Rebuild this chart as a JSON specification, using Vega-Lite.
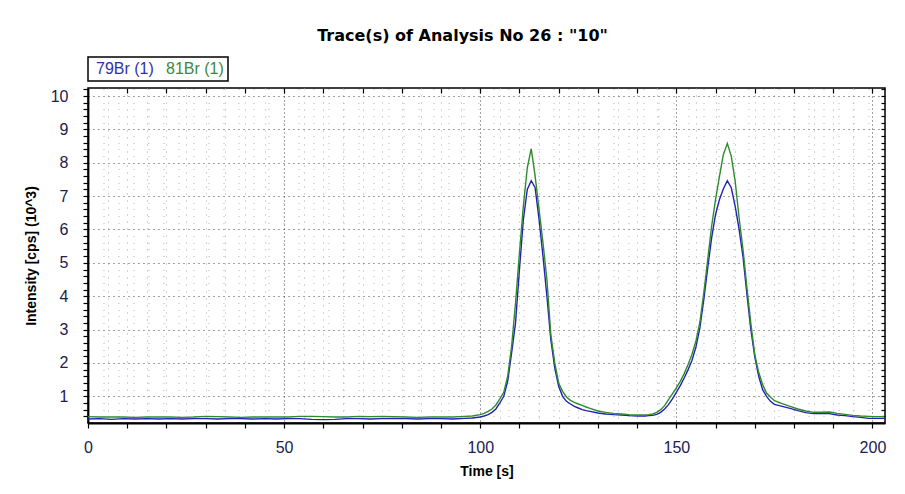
{
  "$schema": "https://vega.github.io/schema/vega-lite/v6.json",
  "width": 797,
  "height": 335,
  "autosize": {"type": "none"},
  "padding": {"left": 88, "top": 88, "right": 20, "bottom": 71},
  "background": "white",
  "title": {"text": "Trace(s) of Analysis No 26 : \"10\"", "font": "DejaVu Sans", "fontSize": 16, "fontWeight": "bold", "color": "#000000", "anchor": "middle", "offset": 12, "dx": -24},
  "config": {"view": {"stroke": "#000000", "strokeWidth": 1.5}, "font": "Liberation Sans"},
  "datasets": {
    "traces": [
      {"t":0,"s":"79Br (1)","v":0.32},{"t":0,"s":"81Br (1)","v":0.39},
      {"t":3,"s":"79Br (1)","v":0.33},{"t":3,"s":"81Br (1)","v":0.38},
      {"t":6,"s":"79Br (1)","v":0.31},{"t":6,"s":"81Br (1)","v":0.38},
      {"t":9,"s":"79Br (1)","v":0.33},{"t":9,"s":"81Br (1)","v":0.38},
      {"t":12,"s":"79Br (1)","v":0.32},{"t":12,"s":"81Br (1)","v":0.37},
      {"t":15,"s":"79Br (1)","v":0.33},{"t":15,"s":"81Br (1)","v":0.38},
      {"t":18,"s":"79Br (1)","v":0.32},{"t":18,"s":"81Br (1)","v":0.38},
      {"t":21,"s":"79Br (1)","v":0.33},{"t":21,"s":"81Br (1)","v":0.38},
      {"t":24,"s":"79Br (1)","v":0.32},{"t":24,"s":"81Br (1)","v":0.37},
      {"t":27,"s":"79Br (1)","v":0.33},{"t":27,"s":"81Br (1)","v":0.38},
      {"t":30,"s":"79Br (1)","v":0.33},{"t":30,"s":"81Br (1)","v":0.40},
      {"t":33,"s":"79Br (1)","v":0.32},{"t":33,"s":"81Br (1)","v":0.39},
      {"t":36,"s":"79Br (1)","v":0.33},{"t":36,"s":"81Br (1)","v":0.38},
      {"t":39,"s":"79Br (1)","v":0.33},{"t":39,"s":"81Br (1)","v":0.37},
      {"t":42,"s":"79Br (1)","v":0.32},{"t":42,"s":"81Br (1)","v":0.38},
      {"t":45,"s":"79Br (1)","v":0.33},{"t":45,"s":"81Br (1)","v":0.38},
      {"t":48,"s":"79Br (1)","v":0.32},{"t":48,"s":"81Br (1)","v":0.38},
      {"t":51,"s":"79Br (1)","v":0.33},{"t":51,"s":"81Br (1)","v":0.38},
      {"t":54,"s":"79Br (1)","v":0.33},{"t":54,"s":"81Br (1)","v":0.40},
      {"t":57,"s":"79Br (1)","v":0.31},{"t":57,"s":"81Br (1)","v":0.40},
      {"t":60,"s":"79Br (1)","v":0.30},{"t":60,"s":"81Br (1)","v":0.39},
      {"t":63,"s":"79Br (1)","v":0.31},{"t":63,"s":"81Br (1)","v":0.38},
      {"t":66,"s":"79Br (1)","v":0.33},{"t":66,"s":"81Br (1)","v":0.38},
      {"t":69,"s":"79Br (1)","v":0.33},{"t":69,"s":"81Br (1)","v":0.40},
      {"t":72,"s":"79Br (1)","v":0.32},{"t":72,"s":"81Br (1)","v":0.39},
      {"t":75,"s":"79Br (1)","v":0.33},{"t":75,"s":"81Br (1)","v":0.40},
      {"t":78,"s":"79Br (1)","v":0.34},{"t":78,"s":"81Br (1)","v":0.39},
      {"t":81,"s":"79Br (1)","v":0.33},{"t":81,"s":"81Br (1)","v":0.38},
      {"t":84,"s":"79Br (1)","v":0.32},{"t":84,"s":"81Br (1)","v":0.37},
      {"t":87,"s":"79Br (1)","v":0.33},{"t":87,"s":"81Br (1)","v":0.38},
      {"t":90,"s":"79Br (1)","v":0.33},{"t":90,"s":"81Br (1)","v":0.38},
      {"t":93,"s":"79Br (1)","v":0.32},{"t":93,"s":"81Br (1)","v":0.38},
      {"t":96,"s":"79Br (1)","v":0.34},{"t":96,"s":"81Br (1)","v":0.40},
      {"t":98,"s":"79Br (1)","v":0.35},{"t":98,"s":"81Br (1)","v":0.41},
      {"t":100,"s":"79Br (1)","v":0.38},{"t":100,"s":"81Br (1)","v":0.45},
      {"t":101,"s":"79Br (1)","v":0.41},{"t":101,"s":"81Br (1)","v":0.49},
      {"t":102,"s":"79Br (1)","v":0.45},{"t":102,"s":"81Br (1)","v":0.55},
      {"t":103,"s":"79Br (1)","v":0.52},{"t":103,"s":"81Br (1)","v":0.62},
      {"t":104,"s":"79Br (1)","v":0.62},{"t":104,"s":"81Br (1)","v":0.74},
      {"t":105,"s":"79Br (1)","v":0.80},{"t":105,"s":"81Br (1)","v":0.92},
      {"t":106,"s":"79Br (1)","v":1.00},{"t":106,"s":"81Br (1)","v":1.12},
      {"t":107,"s":"79Br (1)","v":1.45},{"t":107,"s":"81Br (1)","v":1.60},
      {"t":108,"s":"79Br (1)","v":2.30},{"t":108,"s":"81Br (1)","v":2.50},
      {"t":109,"s":"79Br (1)","v":3.20},{"t":109,"s":"81Br (1)","v":3.80},
      {"t":110,"s":"79Br (1)","v":4.80},{"t":110,"s":"81Br (1)","v":5.30},
      {"t":111,"s":"79Br (1)","v":6.30},{"t":111,"s":"81Br (1)","v":6.70},
      {"t":112,"s":"79Br (1)","v":7.20},{"t":112,"s":"81Br (1)","v":7.85},
      {"t":113,"s":"79Br (1)","v":7.46},{"t":113,"s":"81Br (1)","v":8.42},
      {"t":114,"s":"79Br (1)","v":7.25},{"t":114,"s":"81Br (1)","v":7.60},
      {"t":115,"s":"79Br (1)","v":6.30},{"t":115,"s":"81Br (1)","v":6.60},
      {"t":116,"s":"79Br (1)","v":5.20},{"t":116,"s":"81Br (1)","v":5.60},
      {"t":117,"s":"79Br (1)","v":4.00},{"t":117,"s":"81Br (1)","v":4.50},
      {"t":118,"s":"79Br (1)","v":2.70},{"t":118,"s":"81Br (1)","v":2.85},
      {"t":119,"s":"79Br (1)","v":1.85},{"t":119,"s":"81Br (1)","v":2.00},
      {"t":120,"s":"79Br (1)","v":1.30},{"t":120,"s":"81Br (1)","v":1.40},
      {"t":121,"s":"79Br (1)","v":1.00},{"t":121,"s":"81Br (1)","v":1.15},
      {"t":122,"s":"79Br (1)","v":0.85},{"t":122,"s":"81Br (1)","v":0.98},
      {"t":123,"s":"79Br (1)","v":0.77},{"t":123,"s":"81Br (1)","v":0.88},
      {"t":124,"s":"79Br (1)","v":0.70},{"t":124,"s":"81Br (1)","v":0.82},
      {"t":125,"s":"79Br (1)","v":0.65},{"t":125,"s":"81Br (1)","v":0.77},
      {"t":126,"s":"79Br (1)","v":0.60},{"t":126,"s":"81Br (1)","v":0.73},
      {"t":127,"s":"79Br (1)","v":0.57},{"t":127,"s":"81Br (1)","v":0.68},
      {"t":128,"s":"79Br (1)","v":0.55},{"t":128,"s":"81Br (1)","v":0.64},
      {"t":130,"s":"79Br (1)","v":0.50},{"t":130,"s":"81Br (1)","v":0.56},
      {"t":132,"s":"79Br (1)","v":0.47},{"t":132,"s":"81Br (1)","v":0.52},
      {"t":134,"s":"79Br (1)","v":0.45},{"t":134,"s":"81Br (1)","v":0.49},
      {"t":136,"s":"79Br (1)","v":0.44},{"t":136,"s":"81Br (1)","v":0.47},
      {"t":138,"s":"79Br (1)","v":0.42},{"t":138,"s":"81Br (1)","v":0.45},
      {"t":140,"s":"79Br (1)","v":0.41},{"t":140,"s":"81Br (1)","v":0.44},
      {"t":142,"s":"79Br (1)","v":0.41},{"t":142,"s":"81Br (1)","v":0.44},
      {"t":143,"s":"79Br (1)","v":0.42},{"t":143,"s":"81Br (1)","v":0.45},
      {"t":144,"s":"79Br (1)","v":0.43},{"t":144,"s":"81Br (1)","v":0.47},
      {"t":145,"s":"79Br (1)","v":0.46},{"t":145,"s":"81Br (1)","v":0.52},
      {"t":146,"s":"79Br (1)","v":0.52},{"t":146,"s":"81Br (1)","v":0.60},
      {"t":147,"s":"79Br (1)","v":0.62},{"t":147,"s":"81Br (1)","v":0.72},
      {"t":148,"s":"79Br (1)","v":0.75},{"t":148,"s":"81Br (1)","v":0.90},
      {"t":149,"s":"79Br (1)","v":0.92},{"t":149,"s":"81Br (1)","v":1.07},
      {"t":150,"s":"79Br (1)","v":1.12},{"t":150,"s":"81Br (1)","v":1.25},
      {"t":151,"s":"79Br (1)","v":1.32},{"t":151,"s":"81Br (1)","v":1.45},
      {"t":152,"s":"79Br (1)","v":1.55},{"t":152,"s":"81Br (1)","v":1.68},
      {"t":153,"s":"79Br (1)","v":1.80},{"t":153,"s":"81Br (1)","v":1.95},
      {"t":154,"s":"79Br (1)","v":2.08},{"t":154,"s":"81Br (1)","v":2.26},
      {"t":155,"s":"79Br (1)","v":2.48},{"t":155,"s":"81Br (1)","v":2.66},
      {"t":156,"s":"79Br (1)","v":3.05},{"t":156,"s":"81Br (1)","v":3.22},
      {"t":157,"s":"79Br (1)","v":3.90},{"t":157,"s":"81Br (1)","v":4.10},
      {"t":158,"s":"79Br (1)","v":4.85},{"t":158,"s":"81Br (1)","v":5.10},
      {"t":159,"s":"79Br (1)","v":5.75},{"t":159,"s":"81Br (1)","v":6.10},
      {"t":160,"s":"79Br (1)","v":6.45},{"t":160,"s":"81Br (1)","v":6.90},
      {"t":161,"s":"79Br (1)","v":6.90},{"t":161,"s":"81Br (1)","v":7.60},
      {"t":162,"s":"79Br (1)","v":7.22},{"t":162,"s":"81Br (1)","v":8.25},
      {"t":163,"s":"79Br (1)","v":7.46},{"t":163,"s":"81Br (1)","v":8.58},
      {"t":164,"s":"79Br (1)","v":7.25},{"t":164,"s":"81Br (1)","v":8.20},
      {"t":165,"s":"79Br (1)","v":6.70},{"t":165,"s":"81Br (1)","v":7.45},
      {"t":166,"s":"79Br (1)","v":6.00},{"t":166,"s":"81Br (1)","v":6.35},
      {"t":167,"s":"79Br (1)","v":5.18},{"t":167,"s":"81Br (1)","v":5.40},
      {"t":168,"s":"79Br (1)","v":4.05},{"t":168,"s":"81Br (1)","v":4.25},
      {"t":169,"s":"79Br (1)","v":3.00},{"t":169,"s":"81Br (1)","v":3.18},
      {"t":170,"s":"79Br (1)","v":2.18},{"t":170,"s":"81Br (1)","v":2.25},
      {"t":171,"s":"79Br (1)","v":1.60},{"t":171,"s":"81Br (1)","v":1.72},
      {"t":172,"s":"79Br (1)","v":1.20},{"t":172,"s":"81Br (1)","v":1.35},
      {"t":173,"s":"79Br (1)","v":1.00},{"t":173,"s":"81Br (1)","v":1.10},
      {"t":174,"s":"79Br (1)","v":0.85},{"t":174,"s":"81Br (1)","v":0.98},
      {"t":175,"s":"79Br (1)","v":0.76},{"t":175,"s":"81Br (1)","v":0.87},
      {"t":177,"s":"79Br (1)","v":0.70},{"t":177,"s":"81Br (1)","v":0.78},
      {"t":179,"s":"79Br (1)","v":0.64},{"t":179,"s":"81Br (1)","v":0.70},
      {"t":181,"s":"79Br (1)","v":0.57},{"t":181,"s":"81Br (1)","v":0.62},
      {"t":183,"s":"79Br (1)","v":0.51},{"t":183,"s":"81Br (1)","v":0.56},
      {"t":185,"s":"79Br (1)","v":0.48},{"t":185,"s":"81Br (1)","v":0.52},
      {"t":187,"s":"79Br (1)","v":0.48},{"t":187,"s":"81Br (1)","v":0.52},
      {"t":189,"s":"79Br (1)","v":0.48},{"t":189,"s":"81Br (1)","v":0.53},
      {"t":191,"s":"79Br (1)","v":0.44},{"t":191,"s":"81Br (1)","v":0.49},
      {"t":193,"s":"79Br (1)","v":0.42},{"t":193,"s":"81Br (1)","v":0.46},
      {"t":195,"s":"79Br (1)","v":0.39},{"t":195,"s":"81Br (1)","v":0.43},
      {"t":197,"s":"79Br (1)","v":0.37},{"t":197,"s":"81Br (1)","v":0.41},
      {"t":199,"s":"79Br (1)","v":0.34},{"t":199,"s":"81Br (1)","v":0.40},
      {"t":201,"s":"79Br (1)","v":0.34},{"t":201,"s":"81Br (1)","v":0.39},
      {"t":203,"s":"79Br (1)","v":0.34},{"t":203,"s":"81Br (1)","v":0.39}
    ]
  },
  "data": {"name": "traces"},
  "layer": [
    {
      "mark": {"type": "line", "strokeWidth": 1.4, "interpolate": "linear"},
      "encoding": {
        "x": {
          "field": "t", "type": "quantitative",
          "scale": {"domain": [0, 203.2], "nice": false, "zero": false},
          "axis": {
            "title": "Time [s]", "titleFont": "Liberation Sans", "titleFontSize": 14, "titleFontWeight": "bold", "titleColor": "#000000", "titlePadding": 9,
            "values": [0,5,10,15,20,25,30,35,40,45,50,55,60,65,70,75,80,85,90,95,100,105,110,115,120,125,130,135,140,145,150,155,160,165,170,175,180,185,190,195,200],
            "labelExpr": "datum.value % 50 === 0 ? datum.label : ''",
            "labelFont": "Liberation Sans", "labelFontSize": 16, "labelColor": "#202050", "labelPadding": 11, "labelFlush": false, "labelOverlap": false,
            "domainColor": "#000000", "domainWidth": 1.8,
            "tickColor": "#000000", "tickWidth": 1.2, "tickSize": 5,
            "tickOpacity": {"condition": {"test": "datum.value % 10 === 0", "value": 1}, "value": 0},
            "grid": true, "gridWidth": 1,
            "gridColor": {"condition": {"test": "datum.value % 50 === 0", "value": "#444444"}, "value": "#aaaaaa"},
            "gridDash": {"condition": {"test": "datum.value % 50 === 0", "value": [1, 3]}, "value": [1, 6]}
          }
        },
        "y": {
          "field": "v", "type": "quantitative",
          "scale": {"domain": [0.2, 10.24], "nice": false, "zero": false},
          "axis": {
            "title": "Intensity [cps] (10^3)", "titleFont": "Liberation Sans", "titleFontSize": 14, "titleFontWeight": "bold", "titleColor": "#000000", "titlePadding": 12,
            "values": [0.4,0.6,0.8,1,1.2,1.4,1.6,1.8,2,2.2,2.4,2.6,2.8,3,3.2,3.4,3.6,3.8,4,4.2,4.4,4.6,4.8,5,5.2,5.4,5.6,5.8,6,6.2,6.4,6.6,6.8,7,7.2,7.4,7.6,7.8,8,8.2,8.4,8.6,8.8,9,9.2,9.4,9.6,9.8,10,10.2],
            "labelExpr": "abs(datum.value - round(datum.value)) < 0.001 ? format(round(datum.value), 'd') : ''",
            "labelFont": "Liberation Sans", "labelFontSize": 16, "labelColor": "#202050", "labelPadding": 15, "labelOverlap": false, "labelFlush": false,
            "domainColor": "#000000", "domainWidth": 1.8,
            "tickColor": "#000000", "tickWidth": 1.2, "tickSize": 5,
            "grid": true, "gridWidth": 1,
            "gridColor": {"condition": {"test": "abs(datum.value - round(datum.value)) < 0.001", "value": "#444444"}, "value": "#b4b4b4"},
            "gridDash": {"condition": {"test": "abs(datum.value - round(datum.value)) < 0.001", "value": [1, 4]}, "value": [1, 14]}
          }
        },
        "color": {
          "field": "s", "type": "nominal",
          "scale": {"domain": ["79Br (1)", "81Br (1)"], "range": ["#2222b4", "#2f8a2f"]},
          "legend": {
            "orient": "top", "direction": "horizontal", "title": null,
            "strokeColor": "#000000", "padding": 4, "offset": 6,
            "symbolType": "circle", "symbolSize": 0, "symbolStrokeWidth": 0, "symbolOpacity": 0, "labelOffset": -12,
            "labelFont": "Liberation Sans", "labelFontSize": 16, "columnPadding": 8,
            "encode": {
              "labels": {"update": {"fill": {"signal": "datum.value === '79Br (1)' ? '#3232a8' : '#3a8a3a'"}}},
              "legend": {"update": {"strokeWidth": {"value": 1.5}}}
            }
          }
        }
      }
    },
    {
      "mark": {"type": "line", "opacity": 0},
      "encoding": {
        "x": {
          "field": "t", "type": "quantitative",
          "axis": {"orient": "top", "title": null, "labels": false, "domain": false, "grid": false,
            "values": [10,20,30,40,50,60,70,80,90,100,110,120,130,140,150,160,170,180,190,200],
            "tickColor": "#000000", "tickWidth": 1.2, "tickSize": -5}
        },
        "y": {
          "field": "v", "type": "quantitative",
          "axis": {"orient": "right", "title": null, "labels": false, "domain": false, "grid": false,
            "values": [0.4,0.6,0.8,1,1.2,1.4,1.6,1.8,2,2.2,2.4,2.6,2.8,3,3.2,3.4,3.6,3.8,4,4.2,4.4,4.6,4.8,5,5.2,5.4,5.6,5.8,6,6.2,6.4,6.6,6.8,7,7.2,7.4,7.6,7.8,8,8.2,8.4,8.6,8.8,9,9.2,9.4,9.6,9.8,10,10.2],
            "tickColor": "#000000", "tickWidth": 1.2, "tickSize": -4}
        },
        "detail": {"field": "s", "type": "nominal"}
      }
    }
  ],
  "resolve": {"axis": {"x": "independent", "y": "independent"}}
}
